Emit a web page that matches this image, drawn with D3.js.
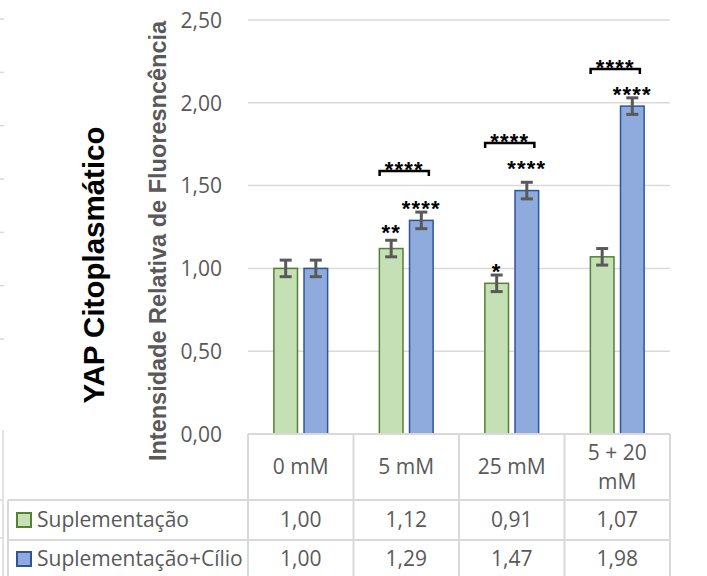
<!DOCTYPE html>
<html>
<head>
<meta charset="utf-8">
<script src="https://cdn.jsdelivr.net/npm/d3@7"></script>
<style>
  html, body { margin: 0; padding: 0; background: #fff; }
  svg { display: block; }
</style>
</head>
<body>
<svg id="chart" width="707" height="576"></svg>
<script>
// ---- data ----
const categories = ["0 mM", "5 mM", "25 mM", "5 + 20 mM"];
const seriesNames = ["Suplementação", "Suplementação+Cílio"];
const suplementacao = [1.00, 1.12, 0.91, 1.07];
const suplementacaoCilio = [1.00, 1.29, 1.47, 1.98];
const errSuplementacao = [0.05, 0.05, 0.05, 0.05];
const errSuplementacaoCilio = [0.05, 0.05, 0.05, 0.05];
// significance marks above each bar and the level (axis units) they sit at
const starsSuplementacao = ["", "**", "*", ""];
const starsSuplementacaoCilio = ["", "****", "****", "****"];
const starLevelSuplementacao = [null, 1.25, 1.015, null];
const starLevelSuplementacaoCilio = [null, 1.395, 1.636, 2.083];
// bracket comparisons between the two series within a group
const bracketStars = ["", "****", "****", "****"];
const bracketLevel = [null, 1.588, 1.757, 2.204];
const yTicks = [0, 0.5, 1.0, 1.5, 2.0, 2.5];
const chartTitle = "YAP Citoplasmático";
const yTitle = "Intensidade Relativa de Fluoresncência";

const values = [suplementacao, suplementacaoCilio];
const errors = [errSuplementacao, errSuplementacaoCilio];
const stars = [starsSuplementacao, starsSuplementacaoCilio];
const starLevels = [starLevelSuplementacao, starLevelSuplementacaoCilio];

// ---- styles ----
const fills = ["#c5e0b4", "#8faadc"];
const strokes = ["#548235", "#2f5597"];
const gridColor = "#d9d9d9";
const textGray = "#595959";
const labelFont = "'Open Sans', sans-serif";
const boldFont = "'Liberation Sans', Arial, sans-serif";

const pt = d3.formatLocale({decimal: ",", thousands: ".", grouping: [3], currency: ["R$", ""]});
const fmt = pt.format(".2f");

const svg = d3.select("#chart");
svg.append("rect").attr("width", 707).attr("height", 576).attr("fill", "#fff");

// layout
const plotLeft = 248, plotRight = 670, plotTop = 20, plotBottom = 434;
const legendLeft = 8;
const headerBottom = 500, row1Bottom = 540;

const x = d3.scaleBand().domain(categories).range([plotLeft, plotRight]);
const xs = d3.scaleBand().domain(d3.range(seriesNames.length))
  .range([0, x.bandwidth()]).paddingInner(1 / 6).paddingOuter(5 / 6);
const y = d3.scaleLinear().domain([0, 2.5]).range([plotBottom, plotTop]);

// edge of the neighbouring panel on the far left
const edge = svg.append("g").attr("stroke", gridColor).attr("stroke-width", 1.5);
const yEdge = d3.scaleLinear().domain([0, 6]).range([339, 19]);
edge.selectAll("line.t").data(d3.range(7)).join("line")
  .attr("x1", 0).attr("x2", 4).attr("y1", d => yEdge(d)).attr("y2", d => yEdge(d));
edge.append("line").attr("x1", 3).attr("x2", 3).attr("y1", 430).attr("y2", 576);
edge.selectAll("line.r").data([headerBottom, row1Bottom - 2]).join("line")
  .attr("x1", 0).attr("x2", 3).attr("y1", d => d).attr("y2", d => d);

// gridlines
svg.append("g").selectAll("line").data(yTicks.filter(d => d > 0)).join("line")
  .attr("x1", plotLeft).attr("x2", plotRight)
  .attr("y1", d => y(d)).attr("y2", d => y(d))
  .attr("stroke", gridColor).attr("stroke-width", 1.5);

// y axis labels
const yAxis = d3.axisLeft(y).tickValues(yTicks).tickFormat(fmt).tickSize(0).tickPadding(0);
const ya = svg.append("g").attr("transform", "translate(222,0)").call(yAxis);
ya.select(".domain").remove();
ya.selectAll("text").attr("font-family", labelFont).attr("font-size", 21)
  .attr("fill", textGray).attr("dy", "0.35em");

// bars
const groups = svg.append("g").selectAll("g").data(categories).join("g")
  .attr("transform", d => `translate(${x(d)},0)`);
groups.each(function(cat, ci) {
  const g = d3.select(this);
  seriesNames.forEach((s, si) => {
    const v = values[si][ci];
    g.append("rect")
      .attr("x", xs(si) + 0.75).attr("width", xs.bandwidth() - 1.5)
      .attr("y", y(v)).attr("height", y(0) - y(v))
      .attr("fill", fills[si]).attr("stroke", strokes[si]).attr("stroke-width", 1.5);
  });
});

// error bars
const errG = svg.append("g").attr("stroke", textGray).attr("stroke-width", 3);
categories.forEach((cat, ci) => {
  seriesNames.forEach((s, si) => {
    const cx = x(cat) + xs(si) + xs.bandwidth() / 2;
    const v = values[si][ci], e = errors[si][ci];
    errG.append("line").attr("x1", cx).attr("x2", cx).attr("y1", y(v + e)).attr("y2", y(v - e));
    [v + e, v - e].forEach(t => errG.append("line")
      .attr("x1", cx - 6).attr("x2", cx + 6).attr("y1", y(t)).attr("y2", y(t)));
  });
});

// significance stars
const starG = svg.append("g").attr("font-family", boldFont).attr("font-weight", "bold")
  .attr("font-size", 22).attr("fill", "#000").attr("text-anchor", "middle")
  .attr("letter-spacing", 1.2);
categories.forEach((cat, ci) => {
  seriesNames.forEach((s, si) => {
    const label = stars[si][ci];
    if (!label) return;
    const cx = x(cat) + xs(si) + xs.bandwidth() / 2;
    starG.append("text").attr("x", cx).attr("y", y(starLevels[si][ci])).attr("dy", "0.6em").text(label);
  });
  const bl = bracketStars[ci];
  if (!bl) return;
  const x0 = x(cat) + xs(0) + 1;
  const x1 = x(cat) + xs(1) + xs.bandwidth() * 0.8;
  const by = y(bracketLevel[ci]);
  svg.append("path").attr("d", `M${x0},${by + 5}V${by}H${x1}V${by + 5}`)
    .attr("fill", "none").attr("stroke", "#000").attr("stroke-width", 2.5);
  starG.append("text").attr("x", (x0 + x1) / 2).attr("y", by - 7).attr("dy", "0.6em").text(bl);
});

// data table
const tbl = svg.append("g").attr("stroke", gridColor).attr("stroke-width", 2);
tbl.append("line").attr("x1", plotLeft).attr("x2", plotRight).attr("y1", plotBottom).attr("y2", plotBottom);
[headerBottom, row1Bottom].forEach(ry => tbl.append("line")
  .attr("x1", legendLeft).attr("x2", plotRight).attr("y1", ry).attr("y2", ry));
tbl.append("line").attr("x1", legendLeft).attr("x2", legendLeft).attr("y1", headerBottom).attr("y2", 576);
categories.concat([null]).forEach(cat => {
  const lx = cat === null ? plotRight : x(cat);
  tbl.append("line").attr("x1", lx).attr("x2", lx).attr("y1", plotBottom).attr("y2", 576);
});

const textG = svg.append("g").attr("font-family", labelFont).attr("font-size", 21)
  .attr("fill", textGray).attr("text-anchor", "middle");

// header: category names, wrapped to the column width
const lineH = 29;
categories.forEach(cat => {
  const t = textG.append("text").attr("x", x(cat) + x.bandwidth() / 2);
  const words = cat.split(" ");
  const lines = [];
  let cur = [];
  words.forEach(w => {
    const trial = cur.concat([w]).join(" ");
    t.text(trial);
    if (cur.length && t.node().getComputedTextLength() > x.bandwidth() - 16) {
      lines.push(cur.join(" "));
      cur = [w];
    } else cur.push(w);
  });
  lines.push(cur.join(" "));
  t.text(null);
  const cy = (plotBottom + headerBottom) / 2;
  const startY = cy - (lines.length - 1) * lineH / 2;
  lines.forEach((ln, li) => t.append("tspan").attr("x", x(cat) + x.bandwidth() / 2)
    .attr("y", startY + li * lineH).attr("dy", "0.35em").text(ln));
});

// value rows
const rowCenters = [(headerBottom + row1Bottom) / 2, (row1Bottom + 576) / 2 + 1];
seriesNames.forEach((s, si) => {
  categories.forEach((cat, ci) => {
    textG.append("text").attr("x", x(cat) + x.bandwidth() / 2)
      .attr("y", rowCenters[si]).attr("dy", "0.35em").text(fmt(values[si][ci]));
  });
  // legend key + name
  svg.append("rect").attr("x", 17).attr("y", rowCenters[si] - 7).attr("width", 14).attr("height", 14)
    .attr("fill", fills[si]).attr("stroke", strokes[si]).attr("stroke-width", 2);
  textG.append("text").attr("x", 37).attr("y", rowCenters[si]).attr("dy", "0.35em")
    .attr("text-anchor", "start").text(s);
});

// titles
svg.append("text").attr("transform", "translate(104,265) rotate(-90)")
  .attr("text-anchor", "middle").attr("font-family", boldFont).attr("font-weight", "bold")
  .attr("font-size", 29.5).attr("fill", "#000").text(chartTitle);
svg.append("text").attr("transform", "translate(166,241) rotate(-90)")
  .attr("text-anchor", "middle").attr("font-family", boldFont).attr("font-weight", "bold")
  .attr("font-size", 23.5).attr("fill", textGray).text(yTitle);
</script>
</body>
</html>
